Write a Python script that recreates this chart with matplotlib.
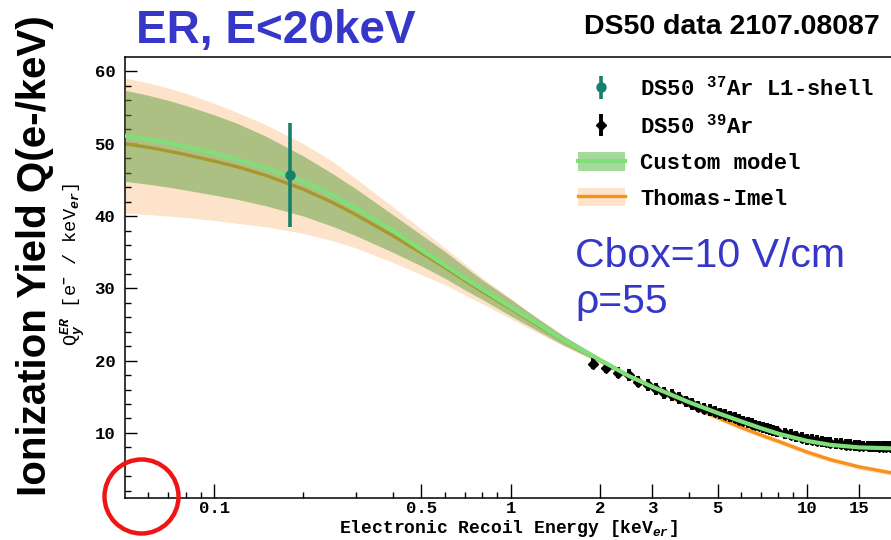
import matplotlib
matplotlib.use("Agg")
import matplotlib.pyplot as plt
from matplotlib.lines import Line2D
from matplotlib.patches import Patch, Ellipse
from matplotlib.ticker import FixedLocator, NullFormatter

plt.rcParams["mathtext.fontset"] = "custom"
plt.rcParams["mathtext.rm"] = "Liberation Mono:bold"
plt.rcParams["mathtext.it"] = "Liberation Mono:italic:bold"
plt.rcParams["mathtext.bf"] = "Liberation Mono:bold"

MONO = "Liberation Mono"
SANS = "Liberation Sans"

# --- model curves: Custom model (green) and Thomas-Imel (orange) ---
E_MODEL = [0.05, 0.06, 0.07, 0.08, 0.1, 0.12, 0.15, 0.2, 0.25, 0.3, 0.4, 0.5, 0.6,
           0.7, 0.8, 1.0, 1.2, 1.5, 2.0, 2.5, 3.0, 4.0, 5.0, 6.0, 7.0, 8.0, 10.0,
           12.0, 15.0, 20.0]

CUSTOM_Q = [51.1, 50.6, 50.1, 49.6, 48.7, 47.8, 46.6, 44.8, 42.9, 41.1, 38.0, 35.3, 33.2,
            31.4, 29.9, 27.4, 25.4, 22.9, 20.1, 17.9, 16.4, 14.25, 12.75, 11.6, 10.65, 9.9, 8.9,
            8.35, 8.0, 7.85]
CUSTOM_HI = [57.4, 56.7, 56.0, 55.3, 54.0, 52.8, 51.0, 48.3, 45.9, 43.8, 40.2, 37.4, 35.1,
             33.0, 31.2, 28.5, 26.2, 23.5, 20.45, 18.25, 16.75, 14.6, 13.1, 11.95, 11.0, 10.25, 9.25,
             8.7, 8.35, 8.2]
CUSTOM_LO = [44.8, 44.4, 44.0, 43.6, 42.9, 42.3, 41.4, 40.0, 38.6, 37.3, 35.0, 33.1, 31.4,
             29.8, 28.5, 26.2, 24.4, 22.2, 19.75, 17.55, 16.05, 13.9, 12.4, 11.25, 10.3, 9.55, 8.55,
             8.0, 7.65, 7.5]

TI_Q = [50.0, 49.5, 49.0, 48.5, 47.6, 46.8, 45.6, 43.7, 41.9, 40.2, 37.3, 34.9, 32.9,
        31.1, 29.6, 27.2, 25.2, 22.8, 20.0, 17.8, 16.2, 13.8, 12.1, 10.75, 9.7, 8.85, 7.35,
        6.3, 5.3, 4.35]
TI_HI = [59.1, 58.4, 57.7, 57.0, 55.6, 54.3, 52.6, 50.0, 47.6, 45.2, 41.3, 38.2, 35.6,
         33.4, 31.5, 28.6, 26.2, 23.5, 20.4, 18.15, 16.55, 14.15, 12.45, 11.1, 10.05, 9.2, 7.7,
         6.65, 5.65, 4.7]
TI_LO = [40.4, 40.2, 40.0, 39.8, 39.4, 39.0, 38.5, 37.6, 36.6, 35.6, 33.6, 31.9, 30.5,
         29.1, 27.9, 25.8, 24.1, 22.1, 19.6, 17.45, 15.85, 13.45, 11.75, 10.4, 9.35, 8.5, 7.0,
         5.95, 4.95, 4.0]

# --- DS50 37Ar L1-shell point ---
AR37_E = [0.18]
AR37_Q = [45.7]
AR37_ERR = [7.2]

# --- DS50 39Ar spectrum points ---
AR39_E = [1.9, 2.1, 2.3, 2.5, 2.7, 2.9, 3.1, 3.3, 3.5, 3.7, 3.9, 4.1, 4.3, 4.5, 4.7, 4.9,
          5.1, 5.3, 5.5, 5.7, 5.9, 6.1, 6.3, 6.5, 6.7, 6.9, 7.1, 7.3, 7.5, 7.7, 7.9,
          8.4, 8.8, 9.2, 9.6, 10.0, 10.4, 10.8, 11.2, 11.6, 12.0,
          12.5, 13.0, 13.5, 14.0, 14.5, 15.0, 15.5, 16.0, 16.5, 17.0, 17.5, 18.0, 18.5, 19.0]
AR39_Q = [19.6, 19.05, 18.35, 18.0, 17.1, 16.65, 16.05, 15.5, 15.25, 14.8, 14.35, 14.0, 13.65, 13.35, 13.2, 12.95,
          12.7, 12.5, 12.3, 12.1, 11.85, 11.65, 11.45, 11.3, 11.1, 10.95, 10.8, 10.65, 10.5, 10.35, 10.2,
          9.95, 9.75, 9.55, 9.35, 9.15, 9.05, 8.95, 8.85, 8.75, 8.65,
          8.55, 8.5, 8.4, 8.35, 8.3, 8.25, 8.2, 8.2, 8.15, 8.15, 8.1, 8.1, 8.1, 8.1]
AR39_ERR = [0.8, 0.8, 0.8, 0.8, 0.8, 0.8, 0.8, 0.8, 0.8, 0.8, 0.8, 0.8, 0.8, 0.8, 0.8, 0.8,
            0.75, 0.75, 0.75, 0.75, 0.75, 0.75, 0.75, 0.75, 0.75, 0.75, 0.75, 0.75, 0.75, 0.75, 0.75,
            0.75, 0.75, 0.75, 0.75, 0.75, 0.75, 0.75, 0.75, 0.75, 0.75,
            0.75, 0.75, 0.75, 0.75, 0.75, 0.75, 0.75, 0.75, 0.75, 0.75, 0.75, 0.75, 0.75, 0.75]

X_MAJOR = [0.1, 0.5, 1, 2, 3, 5, 10, 15]
X_MAJOR_LABELS = ["0.1", "0.5", "1", "2", "3", "5", "10", "15"]
X_MINOR = [0.06, 0.07, 0.08, 0.09, 0.2, 0.3, 0.4, 0.6, 0.7, 0.8, 0.9, 4, 6, 7, 8, 9]
Y_MAJOR = [10, 20, 30, 40, 50, 60]

C_GREEN_BAND = "#5a9e3c"
C_GREEN_LEG = "#a5d99c"
C_GREEN_LINE = "#7fe07a"
C_PEACH = "#fde3c9"
C_ORANGE = "#f7901c"
C_TEAL = "#17806a"
C_BLUE = "#3636c8"

fig = plt.figure(figsize=(8.91, 5.40), dpi=100)
ax = fig.add_axes([125 / 891, 42 / 540, 766 / 891, 441 / 540])

ax.fill_between(E_MODEL, TI_LO, TI_HI, color=C_PEACH, lw=0, zorder=1)
ax.plot(E_MODEL, TI_Q, color=C_ORANGE, lw=2.4, zorder=2)
ax.fill_between(E_MODEL, CUSTOM_LO, CUSTOM_HI, color=C_GREEN_BAND, alpha=0.5, lw=0, zorder=3)
ar39 = ax.errorbar(AR39_E, AR39_Q, yerr=AR39_ERR, fmt="D", color="black", ms=5,
                   elinewidth=2.8, capsize=0, zorder=4)
ax.plot(E_MODEL, CUSTOM_Q, color=C_GREEN_LINE, lw=3.0, zorder=5)
ar37 = ax.errorbar(AR37_E, AR37_Q, yerr=AR37_ERR, fmt="o", color=C_TEAL, ms=6.5,
                   elinewidth=2.6, capsize=0, zorder=6)

ax.set_xscale("log")
ax.set_xlim(0.05, 19.2)
ax.set_ylim(1, 62)

ax.xaxis.set_major_locator(FixedLocator(X_MAJOR))
ax.set_xticklabels(X_MAJOR_LABELS)
ax.xaxis.set_minor_locator(FixedLocator(X_MINOR))
ax.xaxis.set_minor_formatter(NullFormatter())
ax.yaxis.set_major_locator(FixedLocator(Y_MAJOR))
ax.yaxis.set_minor_locator(FixedLocator(list(range(2, 62, 2))))

ax.tick_params(which="major", direction="in", length=10, width=1.0, color="black",
               labelsize=12.5, pad=2.5, top=False, right=False)
ax.tick_params(which="minor", direction="in", length=4.5, width=1.0, color="black",
               top=False, right=False)
ax.tick_params(axis="y", which="major", length=8.5, pad=7)
for lab in ax.get_xticklabels() + ax.get_yticklabels():
    lab.set_family(MONO)
    lab.set_fontweight("bold")

ax.spines["right"].set_visible(False)
for side in ["left", "bottom", "top"]:
    ax.spines[side].set_linewidth(1.1)

ax.set_xlabel("Electronic Recoil Energy [keV$_{\\it er}$]", family=MONO, fontweight="bold",
              fontsize=13, labelpad=1)
ax.set_ylabel("Q$_y^{ER}$ [e$^{-}$ / keV$_{\\it er}$]", family=MONO, fontsize=13.5)
ax.yaxis.set_label_coords(-0.05, 0.53)

# legend
h_custom = (Patch(facecolor=C_GREEN_LEG, lw=0), Line2D([], [], color=C_GREEN_LINE, lw=3))
h_ti = (Patch(facecolor=C_PEACH, lw=0), Line2D([], [], color=C_ORANGE, lw=2.4))
leg = ax.legend([ar37, ar39, h_custom, h_ti],
                ["DS50 $^{37}$Ar L1-shell", "DS50 $^{39}$Ar", "Custom model", "Thomas-Imel"],
                loc="upper left", bbox_to_anchor=(578 / 891, 1 - 77 / 540),
                bbox_transform=fig.transFigure, frameon=False, borderpad=0, borderaxespad=0,
                handlelength=2.1, handleheight=0.9, handletextpad=0.7, labelspacing=0.62,
                prop={"family": MONO, "weight": "bold", "size": 16})

# annotations around the axes
fig.text(276 / 891, 1 - 31 / 540, "ER, E<20keV", ha="center", va="center",
         family=SANS, fontweight="bold", fontsize=33, color=C_BLUE)
fig.text(732 / 891, 1 - 27 / 540, "DS50 data 2107.08087", ha="center", va="center",
         family=SANS, fontweight="bold", fontsize=20.5, color="black")
fig.text(35 / 891, 1 - 256 / 540, "Ionization Yield Q(e-/keV)", ha="center", va="center",
         rotation=90, family=SANS, fontweight="bold", fontsize=29, color="black")
fig.text(575 / 891, 1 - 256 / 540, "Cbox=10 V/cm", ha="left", va="center",
         family=SANS, fontsize=29.5, color=C_BLUE)
fig.text(575 / 891, 1 - 302 / 540, "ρ=55", ha="left", va="center",
         family=SANS, fontsize=29.5, color=C_BLUE)

ring = Ellipse((141.5 / 891, 1 - 496.5 / 540), 74 / 891, 74 / 540, transform=fig.transFigure,
               fill=False, edgecolor="#f01414", lw=3.2, clip_on=False)
fig.add_artist(ring)

fig.savefig("out.png", dpi=100)
